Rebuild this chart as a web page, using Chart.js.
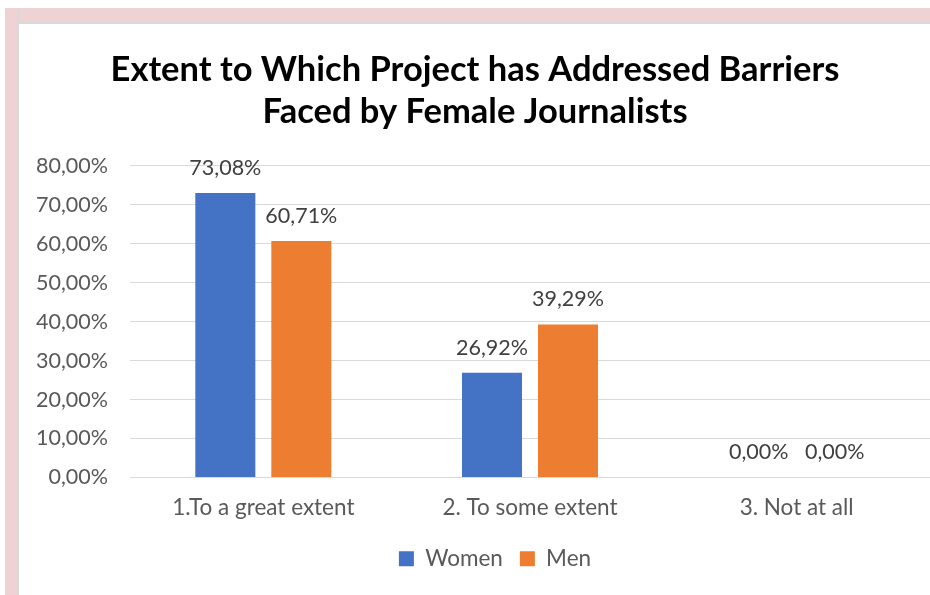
<!DOCTYPE html>
<html lang="en">
<head>
<meta charset="UTF-8">
<title>Barriers Faced by Female Journalists</title>
<script src="https://cdn.jsdelivr.net/npm/chart.js"></script>
<style>
  body, html {
    margin: 0;
    width: 930px;
    height: 595px;
    overflow: hidden;
    background: #fff;
    font-family: Lato, Arial, sans-serif;
  }
  /* pink page frame along the top and left */
  .frame-top {
    position: absolute;
    left: 5px; top: 8px;
    width: 925px; height: 14px;
    background: #efd3d4;
    border-bottom: 2px solid #d9d9d9;
  }
  .frame-left {
    position: absolute;
    left: 5px; top: 8px;
    width: 12px; height: 587px;
    background: #efd3d4;
    border-right: 2px solid #d9d9d9;
  }
  .chart-box {
    position: absolute;
    left: 20px; top: 24px;
    width: 910px; height: 571px;
  }
</style>
</head>
<body>
<div class="frame-top"></div>
<div class="frame-left"></div>
<div class="chart-box"><canvas id="barChart"></canvas></div>

<script>
  var categories = ['1.To a great extent', '2. To some extent', '3. Not at all'];
  var women = [73.08, 26.92, 0];
  var men = [60.71, 39.29, 0];
  var yTicks = [0, 10, 20, 30, 40, 50, 60, 70, 80];

  function pct(v) {
    return v.toFixed(2).replace('.', ',') + '%';
  }

  // value labels above each bar
  var barLabels = {
    id: 'barLabels',
    afterDatasetsDraw: function(chart) {
      var ctx = chart.ctx;
      ctx.save();
      ctx.font = '21.5px Lato, Arial, sans-serif';
      ctx.fillStyle = '#404040';
      ctx.textAlign = 'center';
      ctx.textBaseline = 'middle';
      chart.data.datasets.forEach(function(ds, i) {
        chart.getDatasetMeta(i).data.forEach(function(bar, j) {
          ctx.fillText(pct(ds.data[j]), bar.x, bar.y - 25);
        });
      });
      ctx.restore();
    }
  };

  // nudge the legend a little to the right of the canvas centre
  var legendShift = {
    id: 'legendShift',
    afterLayout: function(chart) {
      chart.legend.left += 20;
      chart.legend.right += 20;
    }
  };

  var ctx = document.getElementById('barChart').getContext('2d');
  var barChart = new Chart(ctx, {
    type: 'bar',
    data: {
      labels: categories,
      datasets: [{
        label: 'Women',
        data: women,
        backgroundColor: '#4472c4',
        barPercentage: 0.79,
        categoryPercentage: 0.57
      }, {
        label: 'Men',
        data: men,
        backgroundColor: '#ed7d31',
        barPercentage: 0.79,
        categoryPercentage: 0.57
      }]
    },
    plugins: [barLabels, legendShift],
    options: {
      responsive: true,
      maintainAspectRatio: false,
      animation: false,
      layout: { padding: { left: 0, right: 0, top: 0, bottom: 15 } },
      plugins: {
        title: {
          display: true,
          text: ['Extent to Which Project has Addressed Barriers', 'Faced by Female Journalists'],
          color: '#000',
          font: { family: 'Lato', size: 34.5, weight: 'bold', lineHeight: 1.217 },
          padding: { top: 25, bottom: 33 }
        },
        legend: {
          position: 'bottom',
          labels: {
            color: '#595959',
            font: { family: 'Lato', size: 22.5 },
            boxWidth: 15,
            boxHeight: 15,
            padding: 17
          }
        },
        tooltip: { enabled: false }
      },
      scales: {
        x: {
          grid: { display: false },
          border: { color: '#d9d9d9' },
          ticks: {
            color: '#595959',
            font: { family: 'Lato', size: 22.5 },
            padding: 9
          }
        },
        y: {
          min: 0,
          max: 80,
          afterFit: function(scale) { scale.width = 110; },
          afterBuildTicks: function(scale) {
            scale.ticks = yTicks.map(function(v) { return { value: v }; });
          },
          grid: { color: '#d9d9d9', drawTicks: false },
          border: { display: false },
          ticks: {
            color: '#595959',
            font: { family: 'Lato', size: 21.5 },
            padding: 22,
            callback: function(v) { return pct(v); }
          }
        }
      }
    }
  });
</script>
</body>
</html>
